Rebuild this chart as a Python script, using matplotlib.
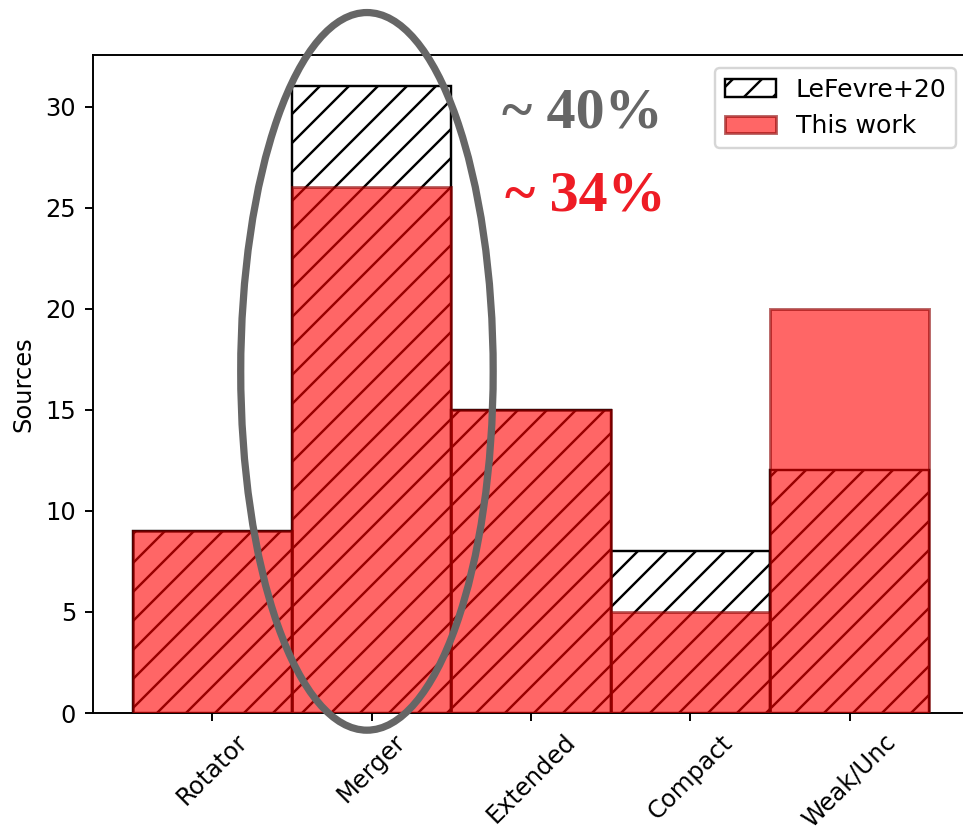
import matplotlib
matplotlib.use("Agg")
import matplotlib.pyplot as plt
from matplotlib.patches import Ellipse

categories = ["Rotator", "Merger", "Extended", "Compact", "Weak/Unc"]
lefevre_counts = [9, 31, 15, 8, 12]
this_work_counts = [9, 26, 15, 5, 20]
merger_fractions = ["~ 40%", "~ 34%"]

DPI = 174
fig = plt.figure(figsize=(963 / DPI, 832 / DPI), dpi=DPI)
ax = fig.add_axes([93 / 963, 119 / 832, 876 / 963, 658 / 832])

x = list(range(len(categories)))
ax.bar(x, lefevre_counts, width=1.0, fill=False, hatch="//",
       edgecolor="black", linewidth=1.0, label="LeFevre+20", zorder=2)
ax.bar(x, this_work_counts, width=1.0, color="red", alpha=0.6,
       edgecolor="darkred", linewidth=1.2, label="This work", zorder=3)

ax.set_xticks(x)
ax.set_xticklabels(categories, rotation=45)
ax.set_ylabel("Sources")
ax.legend(loc="upper right", fontsize=10.4)

# highlight the merger column
ell = Ellipse((0.97, 16.9), width=1.585, height=35.5, fill=False,
              edgecolor="#666666", linewidth=3, clip_on=False, zorder=5)
ax.add_patch(ell)

ax.text(2.32, 29.65, merger_fractions[0], color="#666666", fontsize=24,
        fontweight="bold", family="Liberation Serif", ha="center", va="center")
ax.text(2.34, 25.55, merger_fractions[1], color="#ee1c25", fontsize=24,
        fontweight="bold", family="Liberation Serif", ha="center", va="center")

fig.savefig("out.png", dpi=DPI)
